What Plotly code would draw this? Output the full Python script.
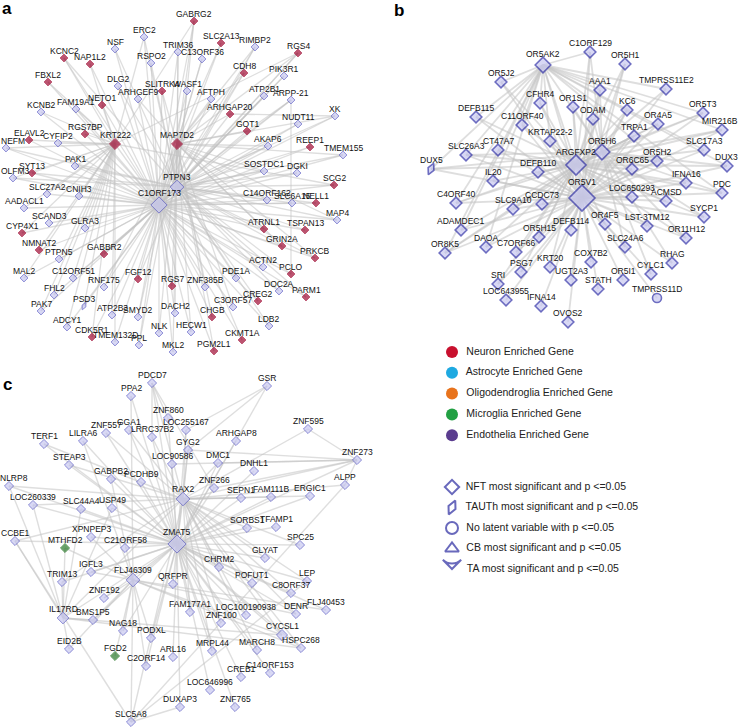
import plotly.graph_objects as go

# ---------------- panel a: node names and positions (px) ----------------
names_a = ["GABRG2", "ERC2", "TRIM36", "C13ORF36", "SLC2A13", "RIMBP2", "RGS4", "NSF", "KCNC2", "NAP1L2",
           "RSPO2", "FBXL2", "DLG2", "SLITRK4", "ARHGEF9", "NETO1", "FAM19A1", "KCNB2", "WASF1", "CDH8",
           "PIK3R1", "AFTPH", "ATP2B1", "ARPP-21", "ARHGAP20", "XK", "NUDT11", "GOT1", "AKAP6", "REEP1",
           "TMEM155", "RGS7BP", "ELAVL2", "CYFIP2", "KRT222", "MAP7D2", "NEFM", "PAK1", "SYT13", "OLFM3",
           "PTPN3", "C1ORF173", "SOSTDC1", "DGKI", "SCG2", "SLC27A2", "CNIH3", "C14ORF162", "SLC6A15", "NELL1",
           "AADACL1", "MAP4", "SCAND3", "GLRA3", "CYP4X1", "ATRNL1", "TSPAN13", "NMNAT2", "GABBR2", "GRIN2A",
           "PTPN5", "PRKCB", "MAL2", "C12ORF51", "FGF12", "RNF175", "RGS7", "ACTN2", "PCLO", "PDE1A",
           "ZNF385B", "DOC2A", "PARM1", "FHL2", "PSD3", "CREG2", "C3ORF57", "PAK7", "ATP2B3", "SMYD2",
           "DACH2", "CHGB", "LDB2", "ADCY1", "NLK", "HECW1", "CDK5R1", "TMEM132D", "PPL", "CKMT1A",
           "MKL2", "PGM2L1"]
x_a = [194, 144, 178, 202, 221, 255, 298, 115, 64, 90,
       151, 48, 118, 162, 138, 102, 76, 41, 187, 244,
       284, 211, 264, 291, 230, 335, 298, 247, 268, 310,
       343, 85, 29, 58, 115, 177, 6, 75, 32, 13,
       177, 159, 264, 297, 334, 47, 79, 267, 292, 316,
       24, 337, 49, 85, 22, 264, 305, 39, 104, 282,
       59, 315, 24, 73, 138, 104, 172, 263, 291, 236,
       205, 279, 306, 54, 84, 258, 233, 41, 112, 138,
       175, 212, 269, 67, 159, 191, 92, 115, 139, 242,
       173, 214]
y_a = [21, 37, 52, 59, 43, 47, 53, 49, 58, 64,
       63, 82, 86, 91, 99, 105, 109, 112, 91, 73,
       76, 99, 96, 100, 114, 116, 124, 131, 146, 147,
       155, 134, 140, 143, 144, 144, 148, 166, 173, 178,
       187, 205, 171, 173, 185, 194, 196, 200, 203, 203,
       208, 220, 223, 228, 233, 229, 230, 250, 254, 246,
       259, 258, 278, 278, 279, 287, 286, 267, 274, 278,
       287, 291, 297, 295, 306, 301, 307, 311, 315, 317,
       313, 317, 326, 327, 333, 332, 337, 342, 345, 340,
       352, 351]
neuron_a = ["GABRG2", "SLC2A13", "RGS4", "KCNC2", "NAP1L2", "FBXL2", "SLITRK4", "NETO1", "CDH8", "ARHGAP20",
            "GOT1", "REEP1", "RGS7BP", "ELAVL2", "KRT222", "MAP7D2", "SYT13", "SCG2", "NELL1", "CYP4X1",
            "ATRNL1", "TSPAN13", "NMNAT2", "GABBR2", "GRIN2A", "PRKCB", "FGF12", "RGS7", "PCLO", "PARM1",
            "CREG2", "CHGB", "CDK5R1", "CKMT1A", "PGM2L1"]
links_a = {
    "C1ORF173": [n for n in names_a if n not in ("C1ORF173",)],
    "PTPN3": ["GABRG2", "ERC2", "TRIM36", "NSF", "RSPO2", "DLG2", "SLITRK4", "WASF1", "CDH8", "RIMBP2",
              "PIK3R1", "ATP2B1", "ARPP-21", "XK", "NUDT11", "AKAP6", "REEP1", "TMEM155", "SOSTDC1", "DGKI",
              "SCG2", "C14ORF162", "SLC6A15", "NELL1", "MAP4", "ATRNL1", "TSPAN13", "GRIN2A", "PRKCB", "ACTN2",
              "PCLO", "PDE1A", "DOC2A", "PARM1", "CREG2", "LDB2", "CKMT1A", "FGF12", "GABBR2", "PAK1",
              "OLFM3", "SYT13", "NEFM", "RGS4", "KCNC2"],
    "KRT222": ["KCNC2", "NAP1L2", "FBXL2", "NETO1", "FAM19A1", "KCNB2", "RGS7BP", "ELAVL2", "CYFIP2", "NEFM",
               "SYT13", "OLFM3", "PAK1", "SLC27A2", "CNIH3", "AADACL1", "GLRA3", "CYP4X1", "NMNAT2", "PTPN5",
               "MAL2", "C12ORF51", "FHL2", "PAK7", "ADCY1", "CDK5R1", "ATP2B3", "TMEM132D", "PSD3", "GABRG2",
               "ERC2", "RGS4", "SCG2"],
    "MAP7D2": ["GABRG2", "SLC2A13", "C13ORF36", "TRIM36", "ARHGEF9", "SLITRK4", "AFTPH", "ARHGAP20", "GOT1", "CDH8",
               "RGS4", "RIMBP2", "AKAP6", "SOSTDC1", "C14ORF162", "ATRNL1", "GRIN2A", "RGS7", "ZNF385B", "CHGB",
               "HECW1", "PGM2L1", "MKL2", "NLK", "PPL", "SMYD2", "DACH2", "RNF175", "C3ORF57", "XK",
               "TMEM155", "MAP4", "PRKCB"],
    "ARPP-21": ["PCLO", "GOT1"],
    "XK": ["ARHGAP20"],
}
size_a = {"C1ORF173": 12.5, "PTPN3": 10.5, "KRT222": 8.5, "MAP7D2": 8.5}

# ---------------- panel b ----------------
names_b = ["OR5AK2", "C1ORF129", "OR5H1", "OR5J2", "AAA1", "TMPRSS11E2", "CFHR4", "OR1S1", "KC6", "OR5T3",
           "DEFB115", "ODAM", "OR4A5", "C11ORF40", "MIR216B", "TRPA1", "KRTAP22-2", "CT47A7", "SLC17A3", "OR5H6",
           "SLC26A3", "ARGFXP2", "OR5H2", "DUX3", "DUX5", "OR6C65", "DEFB110", "IL20", "IFNA16", "PDC",
           "OR5V1", "LOC650293", "ACMSD", "C4ORF40", "CCDC73", "SLC9A10", "SYCP1", "OR4F5", "LST-3TM12", "DEFB114",
           "ADAMDEC1", "OR5H15", "OR11H12", "DAOA", "SLC24A6", "C7ORF66", "OR8K5", "COX7B2", "RHAG", "KRT20",
           "PSG7", "CYLC1", "UGT2A3", "OR5I1", "SRI", "STATH", "LOC643955", "IFNA14", "TMPRSS11D", "OVOS2"]
x_b = [543, 590, 625, 501, 600, 666, 540, 573, 627, 703,
       476, 593, 658, 522, 722, 634, 550, 498, 704, 602,
       466, 576, 657, 727, 431, 632, 538, 493, 686, 722,
       582, 632, 666, 456, 542, 513, 704, 605, 647, 571,
       461, 539, 686, 486, 625, 516, 445, 591, 672, 550,
       521, 651, 571, 623, 498, 598, 506, 541, 657, 568]
y_b = [65, 52, 64, 82, 90, 89, 103, 107, 110, 113,
       117, 119, 124, 125, 130, 136, 141, 150, 150, 152,
       155, 165, 161, 166, 169, 169, 172, 181, 183, 193,
       198, 197, 201, 203, 204, 209, 217, 224, 226, 230,
       230, 237, 238, 247, 247, 252, 253, 262, 263, 267,
       272, 274, 280, 280, 284, 289, 300, 306, 298, 322]
links_b = {
    "OR5V1": [n for n in names_b if n != "OR5V1"],
    "ARGFXP2": ["OR5AK2", "C1ORF129", "OR5H1", "OR5J2", "AAA1", "TMPRSS11E2", "CFHR4", "OR1S1", "KC6", "OR5T3",
                "DEFB115", "ODAM", "OR4A5", "C11ORF40", "MIR216B", "TRPA1", "KRTAP22-2", "CT47A7", "SLC17A3",
                "SLC26A3", "OR5H2", "DUX3", "DUX5", "OR6C65", "DEFB110", "IL20", "IFNA16", "PDC", "LOC650293",
                "ACMSD", "C4ORF40", "CCDC73", "SLC9A10", "SYCP1", "OR4F5", "LST-3TM12", "ADAMDEC1", "OR5H15",
                "OR11H12", "DAOA", "C7ORF66", "OR8K5", "KRT20", "PSG7", "SRI"],
    "OR5AK2": ["OR5J2", "CFHR4", "DEFB115", "C11ORF40", "KRTAP22-2", "C1ORF129", "AAA1", "TMPRSS11E2", "OR5T3",
               "MIR216B", "SLC17A3", "DUX3", "PDC", "IFNA16", "DUX5", "SLC26A3", "OR8K5", "ADAMDEC1", "DAOA",
               "IL20", "C4ORF40", "OR5H6"],
    "OR5H6": ["C1ORF129", "OR5H1", "AAA1", "OR1S1", "KC6", "ODAM", "OR4A5", "TRPA1", "OR5T3", "MIR216B",
              "OR5H2", "DUX3", "PDC", "SYCP1", "OR11H12", "RHAG", "CYLC1", "SLC24A6", "DUX5", "SLC26A3",
              "C4ORF40", "OR8K5", "ARGFXP2"],
}
size_b = {"OR5V1": 20, "ARGFXP2": 15.5, "OR5AK2": 12, "OR5H6": 12}

# ---------------- panel c ----------------
names_c = ["PDCD7", "PPA2", "GSR", "ZNF860", "GGA1", "ZNF557", "LOC255167", "ZNF595", "LRRC37B2", "LILRA6",
           "ARHGAP8", "TERF1", "GYG2", "ZNF273", "DMC1", "LOC90586", "STEAP3", "DNHL1", "GABPB2", "PCDHB9",
           "ALPP", "NLRP8", "ZNF266", "RAX2", "SEPN1", "FAM111B", "ERGIC1", "LOC260339", "USP49", "SLC44A4",
           "SORBS1", "TFAMP1", "XPNPEP3", "CCBE1", "ZMAT5", "SPC25", "MTHFD2", "C21ORF58", "GLYAT", "CHRM2",
           "IGFL3", "FLJ46309", "TRIM13", "LEP", "POFUT1", "QRFPR", "C8ORF37", "ZNF192", "FLJ40453", "FAM177A1",
           "DENR", "LOC100190938", "IL17RD", "BMS1P5", "ZNF100", "NAG18", "CYCSL1", "PODXL", "HSPC268", "EID2B",
           "MARCH8", "MRPL44", "FGD2", "ARL16", "C2ORF14", "C14ORF153", "CREB1", "LOC646996", "DUXAP3", "ZNF765",
           "SLC5A8"]
x_c = [152, 131, 267, 168, 129, 106, 186, 308, 152, 83,
       236, 44, 188, 357, 218, 172, 69, 254, 111, 141,
       345, 9, 214, 183, 241, 271, 310, 33, 112, 81,
       247, 276, 91, 15, 177, 300, 65, 125, 265, 219,
       91, 133, 62, 307, 252, 173, 291, 104, 326, 190,
       296, 246, 63, 93, 221, 123, 282, 151, 301, 69,
       257, 212, 115, 173, 146, 270, 241, 210, 180, 235,
       131]
y_c = [383, 396, 386, 418, 430, 433, 430, 429, 437, 441,
       441, 444, 450, 460, 463, 464, 465, 471, 479, 482,
       485, 486, 488, 499, 498, 497, 496, 505, 508, 509,
       528, 527, 537, 541, 544, 545, 548, 548, 558, 567,
       572, 580, 582, 581, 583, 584, 593, 598, 610, 612,
       614, 615, 618, 620, 623, 631, 635, 638, 648, 649,
       650, 651, 656, 657, 666, 673, 677, 690, 707, 707,
       722]
microglia_c = ["MTHFD2", "FGD2"]
links_c = {
    "ZMAT5": ["PDCD7", "PPA2", "ZNF860", "GGA1", "ZNF557", "LRRC37B2", "LILRA6", "TERF1", "STEAP3", "LOC90586",
              "GABPB2", "PCDHB9", "NLRP8", "LOC260339", "SLC44A4", "USP49", "XPNPEP3", "CCBE1", "C21ORF58", "IGFL3",
              "TRIM13", "QRFPR", "ZNF192", "BMS1P5", "NAG18", "PODXL", "ARL16", "C2ORF14", "DUXAP3", "LOC646996",
              "MRPL44", "ZNF100", "FAM177A1", "CHRM2", "POFUT1", "GLYAT", "SPC25", "SORBS1", "TFAMP1", "SEPN1",
              "FAM111B", "ERGIC1", "ZNF266", "DMC1", "DNHL1", "ARHGAP8", "GYG2", "LOC255167", "ZNF273", "LEP",
              "C8ORF37", "DENR", "CYCSL1", "HSPC268", "MARCH8", "LOC100190938", "CREB1", "ZNF765", "C14ORF153",
              "FLJ40453", "RAX2", "FLJ46309", "IL17RD", "GSR"],
    "RAX2": ["GGA1", "ZNF557", "LRRC37B2", "LOC255167", "GYG2", "DMC1", "ZNF595", "ZNF273", "ALPP", "ERGIC1",
             "FAM111B", "SEPN1", "SORBS1", "SPC25", "GLYAT", "LEP", "C8ORF37", "DENR", "CYCSL1", "HSPC268",
             "MARCH8", "MRPL44", "ZNF100", "FAM177A1", "LOC100190938", "CHRM2", "TERF1", "NLRP8", "LOC260339",
             "STEAP3", "CCBE1", "IL17RD", "TRIM13", "SLC5A8", "PDCD7"],
    "FLJ46309": ["PPA2", "LILRA6", "GABPB2", "XPNPEP3", "MTHFD2", "IGFL3", "ZNF192", "BMS1P5", "FGD2", "EID2B",
                 "NAG18", "PODXL", "SLC5A8", "C2ORF14", "CYCSL1", "HSPC268", "DENR", "FLJ40453"],
    "IL17RD": ["NLRP8", "LOC260339", "CCBE1", "TRIM13", "EID2B", "BMS1P5", "SLC44A4", "CYCSL1", "HSPC268",
               "MTHFD2", "USP49"],
    "GSR": ["LOC255167", "GYG2"],
    "ZNF273": ["GYG2", "LOC90586", "DMC1", "ZNF266", "ALPP", "ZNF595"],
    "PDCD7": ["LRRC37B2", "ZNF860", "ZNF266"],
    "SLC5A8": ["CCBE1", "DUXAP3", "ALPP", "LEP"],
}
size_c = {"ZMAT5": 14, "RAX2": 10.5, "FLJ46309": 10.5, "IL17RD": 9, "CYCSL1": 8.5}

# ---------------- legend ----------------
cell_types = ["Neuron Enriched Gene", "Astrocyte Enriched Gene", "Oligodendroglia Enriched Gene",
              "Microglia Enriched Gene", "Endothelia Enriched Gene"]
cell_colors = ["#c8102e", "#1ea9e1", "#e8731c", "#22a043", "#5b3d8f"]
model_labels = ["NFT most significant and p <=0.05", "TAUTh most significant and p <=0.05",
                "No latent variable with p <=0.05", "CB most significant and p <=0.05",
                "TA most significant and p <=0.05"]
model_symbols = ["diamond-open", "diamond-tall-open", "circle-open", "triangle-up-open", "arrow-wide-open"]

EDGE = "rgba(195,195,195,0.55)"
FILL = "#c8c8f0"
RED = "#a00d35"
GREEN = "#2b7a2b"
LABEL_FONT = dict(family="Arial, Liberation Sans", size=8.5, color="#111")

fig = go.Figure()


def add_panel(names, xs, ys, links, sizes, base, line_w, outline, edge_w, specials=None, shape=None,
              label_dx=None):
    pos = {n: (x, y) for n, x, y in zip(names, xs, ys)}
    ex, ey = [], []
    for hub, targets in links.items():
        for t in targets:
            ex += [pos[hub][0], pos[t][0], None]
            ey += [pos[hub][1], pos[t][1], None]
    fig.add_trace(go.Scatter(x=ex, y=ey, mode="lines", line=dict(color=EDGE, width=edge_w),
                             hoverinfo="skip", showlegend=False))
    specials = specials or {}
    shape = shape or {}
    label_dx = label_dx or {}
    symbols, fills, lines, msz, angles = [], [], [], [], []
    for n in names:
        symbols.append(shape.get(n, ("diamond", 0))[0])
        angles.append(shape.get(n, ("diamond", 0))[1])
        if n in specials:
            fills.append(specials[n])
            lines.append(specials[n])
        else:
            fills.append(FILL)
            lines.append(outline)
        msz.append(sizes.get(n, base))
    fig.add_trace(go.Scatter(
        x=xs, y=ys, mode="markers", text=names,
        marker=dict(symbol=symbols, angle=angles, size=msz, color=fills,
                    line=dict(color=lines, width=line_w)),
        hoverinfo="text", showlegend=False, cliponaxis=False))
    # labels sit just above each node
    for n, x, y, s in zip(names, xs, ys, msz):
        fig.add_annotation(x=x, y=y, text=n, showarrow=False, font=LABEL_FONT,
                           xanchor="center", yanchor="middle",
                           xshift=label_dx.get(n, 0), yshift=1.3 * s / 2 + 3.4)


add_panel(names_a, x_a, y_a, links_a, size_a, 6, 1, "#5a5ac4", 1.3,
          specials={n: RED for n in neuron_a}, shape={"PSD3": ("diamond-tall", 25)},
          label_dx={"NEFM": 7, "OLFM3": 2})
add_panel(names_b, x_b, y_b, links_b, size_b, 9, 1.6, "#3030a8", 1.8,
          shape={"DUX5": ("diamond-tall", 25), "TMPRSS11D": ("circle", 0)},
          label_dx={"DUX3": -1, "MIR216B": -2})
add_panel(names_c, x_c, y_c, links_c, size_c, 7, 1, "#5a5ac4", 1.4,
          specials={n: GREEN for n in microglia_c}, label_dx={"NLRP8": 5})

# legend glyphs
lx = 452
fig.add_trace(go.Scatter(
    x=[lx] * len(cell_types), y=[352 + 20.8 * i for i in range(len(cell_types))],
    mode="markers+text", text=["  " + t for t in cell_types], textposition="middle right",
    textfont=dict(family="Arial, Liberation Sans", size=10.5, color="#222"),
    marker=dict(symbol="circle", size=12, color=cell_colors), showlegend=False, hoverinfo="skip"))
fig.add_trace(go.Scatter(
    x=[lx] * len(model_labels), y=[487 + 20.5 * i for i in range(len(model_labels))],
    mode="markers+text", text=["  " + t for t in model_labels], textposition="middle right",
    textfont=dict(family="Arial, Liberation Sans", size=10.5, color="#222"),
    marker=dict(symbol=model_symbols, angle=[0, 25, 0, 0, 180], size=[11, 11, 12, 12, 13],
                color="#2a2aa0", line=dict(color="#2a2aa0", width=2)),
    showlegend=False, hoverinfo="skip"))

for letter, px, py in [("a", 7, 8), ("b", 399, 10), ("c", 7, 384)]:
    fig.add_annotation(x=px, y=py, text="<b>%s</b>" % letter, showarrow=False,
                       xanchor="center", yanchor="middle",
                       font=dict(family="Arial, Liberation Sans", size=17, color="#000"))

fig.update_layout(
    width=738, height=727, margin=dict(l=0, r=0, t=0, b=0),
    paper_bgcolor="white", plot_bgcolor="white",
    xaxis=dict(range=[0, 738], visible=False, fixedrange=True),
    yaxis=dict(range=[727, 0], visible=False, fixedrange=True),
)

fig.write_html("out.html", config={"displayModeBar": False},
               post_script="document.body.style.margin='0';")
